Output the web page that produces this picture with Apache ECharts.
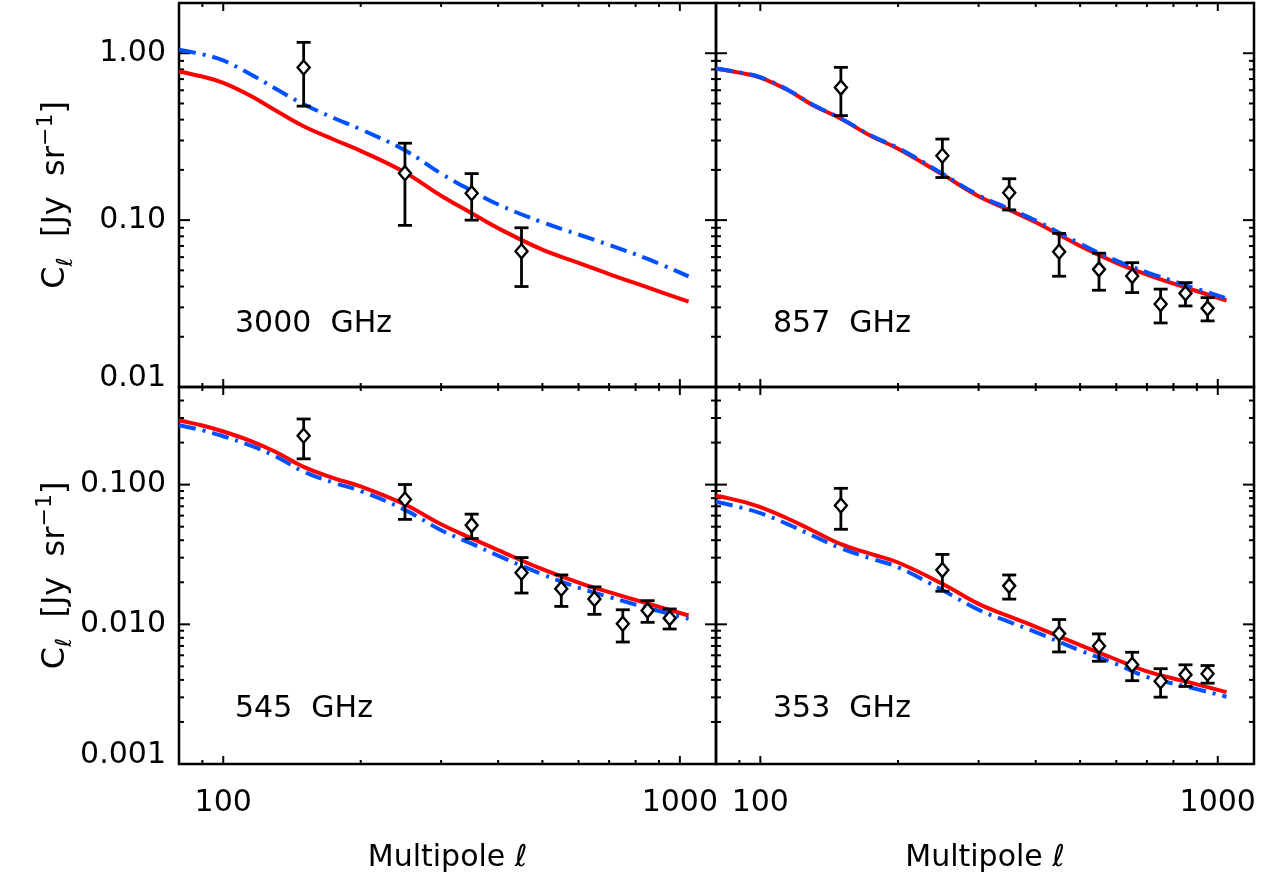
<!DOCTYPE html>
<html><head><meta charset="utf-8">
<script src="https://cdn.jsdelivr.net/npm/echarts@6/dist/echarts.min.js"></script>
<style>html,body{margin:0;padding:0;background:#fff}#c{width:1282px;height:874px}</style>
</head><body><div id="c"></div>
<script>
// ---------------- data ----------------
const ellData = [150, 250, 350, 450, 550, 650, 750, 850, 950];
const ell3000 = [150, 250, 350, 450];
const cl3000  = [0.822, 0.191, 0.145, 0.0650];
const sig3000 = [0.340, 0.098, 0.045, 0.025];
const cl857   = [0.623, 0.243, 0.146, 0.0647, 0.0507, 0.0462, 0.0314, 0.0364, 0.0296];
const sig857  = [0.200, 0.063, 0.031, 0.0186, 0.0127, 0.0094, 0.0072, 0.0058, 0.0047];
const cl545   = [0.224, 0.0783, 0.0513, 0.0234, 0.0180, 0.01516, 0.01009, 0.01255, 0.01107];
const sig545  = [0.071, 0.0219, 0.0102, 0.00665, 0.00457, 0.00337, 0.00262, 0.00222, 0.00181];
const cl353   = [0.0710, 0.02445, 0.01885, 0.00858, 0.00699, 0.00513, 0.00391, 0.00436, 0.00443];
const sig353  = [0.0231, 0.0072, 0.0037, 0.00224, 0.00155, 0.00118, 0.0009, 0.00077, 0.00064];

const modelEll = [80, 90, 100, 115, 130, 150, 175, 200, 250, 300, 350, 400, 500, 600, 700, 850, 1045];
const red3000  = [0.778, 0.725, 0.665, 0.555, 0.455, 0.365, 0.303, 0.260, 0.193, 0.140, 0.110, 0.0895, 0.0665, 0.0555, 0.0475, 0.0395, 0.0325];
const blue3000 = [1.05, 0.985, 0.905, 0.745, 0.615, 0.495, 0.408, 0.350, 0.262, 0.190, 0.150, 0.124, 0.097, 0.082, 0.071, 0.0585, 0.046];
const red857   = [0.807, 0.765, 0.715, 0.60, 0.49, 0.405, 0.318, 0.268, 0.188, 0.139, 0.115, 0.097, 0.070, 0.0555, 0.0472, 0.0395, 0.0330];
const blue857  = [0.810, 0.768, 0.718, 0.603, 0.493, 0.407, 0.320, 0.271, 0.190, 0.141, 0.117, 0.0995, 0.0722, 0.0572, 0.0487, 0.0408, 0.0340];
const red545   = [0.288, 0.265, 0.240, 0.205, 0.172, 0.134, 0.111, 0.097, 0.072, 0.052, 0.0412, 0.034, 0.0248, 0.0199, 0.0170, 0.0141, 0.01157];
const blue545  = [0.266, 0.245, 0.222, 0.190, 0.160, 0.124, 0.103, 0.090, 0.066, 0.0472, 0.0378, 0.031, 0.0228, 0.0183, 0.0157, 0.0131, 0.01095];
const red353   = [0.0832, 0.0765, 0.069, 0.057, 0.047, 0.0375, 0.0318, 0.0277, 0.0195, 0.0140, 0.0114, 0.0096, 0.0071, 0.0056, 0.0046, 0.0039, 0.00327];
const blue353  = [0.0755, 0.0690, 0.0625, 0.052, 0.0432, 0.035, 0.0295, 0.0256, 0.0176, 0.0127, 0.0104, 0.0088, 0.0065, 0.0052, 0.0042, 0.0036, 0.00303];

const xRange = [80, 1200];
const yRangeTop = [0.01, 2];
const yRangeBot = [0.001, 0.5];
const xMajorTicks = [100, 1000];
const xMinorTicks = [80, 90, 200, 300, 400, 500, 600, 700, 800, 900];
const yMajorTop = [0.01, 0.1, 1];
const yMinorTop = [0.02, 0.03, 0.04, 0.05, 0.06, 0.07, 0.08, 0.09, 0.2, 0.3, 0.4, 0.5, 0.6, 0.7, 0.8, 0.9, 2];
const yMajorBot = [0.001, 0.01, 0.1];
const yMinorBot = [0.002, 0.003, 0.004, 0.005, 0.006, 0.007, 0.008, 0.009, 0.02, 0.03, 0.04, 0.05, 0.06, 0.07, 0.08, 0.09, 0.2, 0.3, 0.4, 0.5];
const panelNames = ['3000  GHz', '857  GHz', '545  GHz', '353  GHz'];
const xTitle = 'Multipole ℓ';

// ---------------- build ----------------
const FONT = 'DejaVu Sans';
const zip = (xs, ys) => xs.map((x, i) => [x, ys[i]]);
const errData = (xs, v, s) => xs.map((x, i) => [x, v[i], v[i] - s[i], v[i] + s[i]]);

function isPow10(v) { const e = Math.log10(v); return Math.abs(e - Math.round(e)) < 1e-6; }

function tickData(yr, yMaj, yMin) {
  const d = [];
  xMajorTicks.forEach(x => d.push([x, yr[0], 0]));
  xMinorTicks.forEach(x => d.push([x, yr[0], 1]));
  yMaj.forEach(y => d.push([xRange[0], y, 2]));
  yMin.forEach(y => d.push([xRange[0], y, 3]));
  return d;
}
function tickRender(yr) {
  return function (params, api) {
    const k = api.value(2);
    const st = { stroke: '#000', lineWidth: 2 };
    const ch = [];
    if (k < 2) {
      const x = api.value(0);
      const a = api.coord([x, yr[0]]), b = api.coord([x, yr[1]]);
      const L = k === 0 ? 8 : 4;
      ch.push({ type: 'line', shape: { x1: a[0], y1: a[1], x2: a[0], y2: a[1] - L }, style: st });
      ch.push({ type: 'line', shape: { x1: b[0], y1: b[1], x2: b[0], y2: b[1] + L }, style: st });
    } else {
      const y = api.value(1);
      const a = api.coord([xRange[0], y]), b = api.coord([xRange[1], y]);
      const L = k === 2 ? 11 : 5;
      ch.push({ type: 'line', shape: { x1: a[0], y1: a[1], x2: a[0] + L, y2: a[1] }, style: st });
      ch.push({ type: 'line', shape: { x1: b[0], y1: b[1], x2: b[0] - L, y2: b[1] }, style: st });
    }
    return { type: 'group', children: ch };
  };
}
function errRender(params, api) {
  const x = api.value(0);
  const p = api.coord([x, api.value(1)]);
  const lo = api.coord([x, api.value(2)]);
  const hi = api.coord([x, api.value(3)]);
  const st = { stroke: '#000', lineWidth: 2.8, fill: null };
  const cw = 7, dw = 6, dh = 7;
  return { type: 'group', children: [
    { type: 'line', shape: { x1: lo[0], y1: lo[1], x2: hi[0], y2: hi[1] }, style: st },
    { type: 'line', shape: { x1: lo[0] - cw, y1: lo[1], x2: lo[0] + cw, y2: lo[1] }, style: st },
    { type: 'line', shape: { x1: hi[0] - cw, y1: hi[1], x2: hi[0] + cw, y2: hi[1] }, style: st },
    { type: 'polygon', shape: { points: [[p[0], p[1] - dh], [p[0] + dw, p[1]], [p[0], p[1] + dh], [p[0] - dw, p[1]]] },
      style: { stroke: '#000', lineWidth: 2.4, fill: '#fff' } }
  ]};
}

const grids = [
  { left: 179, top: 3, width: 537, height: 384 },
  { left: 716, top: 3, width: 538, height: 384 },
  { left: 179, top: 387, width: 537, height: 383 },
  { left: 716, top: 387, width: 538, height: 383 }
].map(g => Object.assign(g, { show: true, borderColor: '#000', borderWidth: 2.5, backgroundColor: 'transparent', containLabel: false }));

const xAxes = [0, 1, 2, 3].map(i => ({
  type: 'log', logBase: 10, gridIndex: i, min: xRange[0], max: xRange[1],
  axisLine: { show: false }, axisTick: { show: false }, splitLine: { show: false },
  axisLabel: { show: i >= 2, margin: 24, color: '#000', fontFamily: FONT, fontSize: 30,
    formatter: v => isPow10(v) ? String(Math.round(v)) : '' },
  name: i >= 2 ? xTitle : '', nameLocation: 'middle', nameGap: 79,
  nameTextStyle: { color: '#000', fontFamily: FONT, fontSize: 30 }
}));

const yName = '{n|C}{s|ℓ}{n|  [Jy  sr}{p|−1}{n|]}';
const yRich = {
  n: { fontFamily: FONT, fontSize: 32, color: '#000', lineHeight: 42, verticalAlign: 'middle' },
  s: { fontFamily: FONT, fontSize: 22, color: '#000', lineHeight: 22, verticalAlign: 'bottom' },
  p: { fontFamily: FONT, fontSize: 22, color: '#000', lineHeight: 22, verticalAlign: 'top' }
};
function yFmt(top) {
  return v => {
    if (!isPow10(v)) return '';
    const e = Math.round(Math.log10(v));
    const dec = top ? 2 : 3;
    const s = Math.pow(10, e).toFixed(dec);
    const minE = top ? -2 : -3;
    return e === minE ? '{lo|' + s + '}' : s;
  };
}
const yAxes = [0, 1, 2, 3].map(i => {
  const top = i < 2;
  const yr = top ? yRangeTop : yRangeBot;
  return {
    type: 'log', logBase: 10, gridIndex: i, min: yr[0], max: yr[1],
    axisLine: { show: false }, axisTick: { show: false }, splitLine: { show: false },
    axisLabel: { show: i % 2 === 0, margin: 13, color: '#000', fontFamily: FONT, fontSize: 30,
      formatter: yFmt(top),
      rich: { lo: { fontFamily: FONT, fontSize: 30, color: '#000', padding: [0, 0, 18, 0] } } },
    name: i % 2 === 0 ? yName : '', nameLocation: 'middle', nameGap: 102, nameRotate: 90,
    nameTextStyle: { rich: yRich }
  };
});

const panels = [
  { red: red3000, blue: blue3000, err: errData(ell3000, cl3000, sig3000) },
  { red: red857, blue: blue857, err: errData(ellData, cl857, sig857) },
  { red: red545, blue: blue545, err: errData(ellData, cl545, sig545) },
  { red: red353, blue: blue353, err: errData(ellData, cl353, sig353) }
];

const series = [];
panels.forEach((p, i) => {
  const top = i < 2;
  const yr = top ? yRangeTop : yRangeBot;
  series.push({ type: 'custom', xAxisIndex: i, yAxisIndex: i, silent: true, z: 1,
    data: top ? tickData(yr, yMajorTop, yMinorTop) : tickData(yr, yMajorBot, yMinorBot),
    encode: { x: 0, y: 1 }, renderItem: tickRender(yr) });
  series.push({ type: 'line', xAxisIndex: i, yAxisIndex: i, data: zip(modelEll, p.red), showSymbol: false,
    smooth: 0.4, lineStyle: { color: '#ff0000', width: 4 }, z: 2, silent: true });
  series.push({ type: 'line', xAxisIndex: i, yAxisIndex: i, data: zip(modelEll, p.blue), showSymbol: false,
    smooth: 0.4, lineStyle: { color: '#0050ff', width: 4, type: [17, 7, 3, 7] }, z: 3, silent: true });
  series.push({ type: 'custom', xAxisIndex: i, yAxisIndex: i, data: p.err, encode: { x: 0, y: 1 },
    renderItem: errRender, z: 4, silent: true });
});

const labelPos = [[235, 324], [773, 324], [235, 709], [773, 709]];
const graphic = panelNames.map((t, i) => ({
  type: 'text', x: labelPos[i][0], y: labelPos[i][1], z: 10,
  style: { text: t, fontFamily: FONT, fontSize: 30, fill: '#000', verticalAlign: 'middle' }
}));

const chart = echarts.init(document.getElementById('c'), null, { renderer: 'canvas' });
chart.setOption({
  animation: false, backgroundColor: '#fff',
  grid: grids, xAxis: xAxes, yAxis: yAxes, series, graphic
});
</script></body></html>
